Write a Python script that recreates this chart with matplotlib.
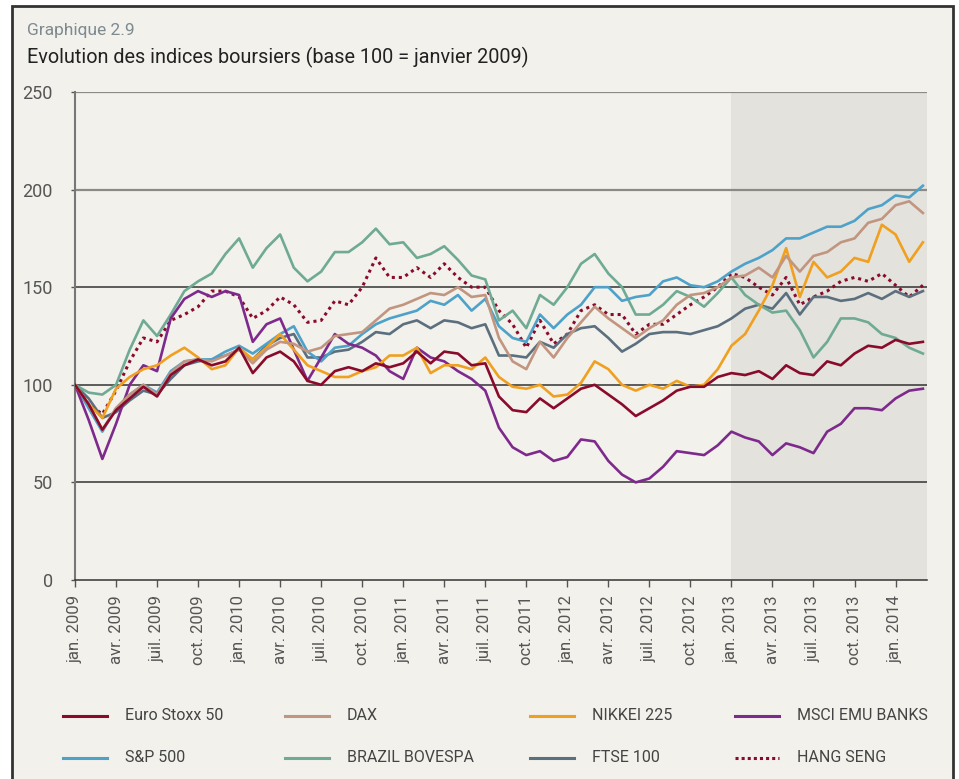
import numpy as np
import matplotlib
matplotlib.use("Agg")
import matplotlib.pyplot as plt
from matplotlib.patches import Rectangle
from matplotlib.lines import Line2D

plt.rcParams['font.family'] = ['Roboto', 'DejaVu Sans']

# monthly readings, jan. 2009 .. mars 2014 (base 100 = janvier 2009)
months = np.arange(63)

euro_stoxx = [100, 90, 77, 87, 93, 99, 94, 105, 110, 113, 110, 112,
              119, 106, 114, 117, 112, 102, 100, 107, 109, 107, 111, 109,
              111, 117, 111, 117, 116, 110, 111, 94, 87, 86, 93, 88,
              93, 98, 100, 95, 90, 84, 88, 92, 97, 99, 99, 104,
              106, 105, 107, 103, 110, 106, 105, 112, 110, 116, 120, 119, 123, 121, 122]
dax = [100, 90, 77, 88, 95, 100, 95, 106, 112, 113, 112, 115,
       118, 111, 118, 122, 121, 117, 119, 125, 126, 127, 133, 139,
       141, 144, 147, 146, 150, 145, 146, 124, 112, 108, 122, 114,
       124, 132, 140, 134, 129, 124, 129, 133, 141, 146, 147, 150,
       155, 156, 160, 155, 166, 158, 166, 168, 173, 175, 183, 185, 192, 194, 188]
nikkei = [100, 90, 83, 98, 104, 108, 110, 115, 119, 114, 108, 110,
          119, 113, 119, 126, 118, 110, 107, 104, 104, 107, 109, 115,
          115, 119, 106, 110, 110, 108, 114, 104, 99, 98, 100, 94,
          95, 101, 112, 108, 100, 97, 100, 98, 102, 99, 100, 108,
          120, 126, 138, 151, 170, 145, 163, 155, 158, 165, 163, 182, 177, 163, 173]
msci_banks = [100, 82, 62, 80, 100, 110, 107, 134, 144, 148, 145, 148,
              146, 122, 131, 134, 118, 102, 114, 126, 121, 119, 115, 107,
              103, 119, 114, 112, 107, 103, 97, 78, 68, 64, 66, 61,
              63, 72, 71, 61, 54, 50, 52, 58, 66, 65, 64, 69,
              76, 73, 71, 64, 70, 68, 65, 76, 80, 88, 88, 87, 93, 97, 98]
sp500 = [100, 88, 76, 88, 95, 100, 96, 107, 112, 113, 113, 117,
         120, 116, 121, 126, 130, 117, 112, 119, 120, 126, 131, 134,
         136, 138, 143, 141, 146, 138, 144, 130, 124, 122, 136, 129,
         136, 141, 150, 150, 143, 145, 146, 153, 155, 151, 150, 153,
         158, 162, 165, 169, 175, 175, 178, 181, 181, 184, 190, 192, 197, 196, 202]
bovespa = [100, 96, 95, 100, 118, 133, 125, 136, 148, 153, 157, 167,
           175, 160, 170, 177, 160, 153, 158, 168, 168, 173, 180, 172,
           173, 165, 167, 171, 164, 156, 154, 133, 138, 129, 146, 141,
           150, 162, 167, 157, 150, 136, 136, 141, 148, 145, 140, 147,
           155, 146, 141, 137, 138, 128, 114, 122, 134, 134, 132, 126, 124, 119, 116]
ftse = [100, 93, 83, 86, 92, 97, 95, 103, 110, 112, 113, 115,
        118, 113, 120, 124, 126, 114, 114, 117, 118, 122, 127, 126,
        131, 133, 129, 133, 132, 129, 131, 115, 115, 114, 122, 119,
        126, 129, 130, 124, 117, 121, 126, 127, 127, 126, 128, 130,
        134, 139, 141, 139, 147, 136, 145, 145, 143, 144, 147, 144, 148, 145, 148]
hang_seng = [100, 90, 85, 97, 112, 124, 122, 133, 136, 140, 148, 148,
             145, 134, 138, 145, 141, 132, 133, 143, 141, 150, 165, 155,
             155, 160, 155, 162, 155, 150, 150, 138, 131, 119, 133, 121,
             126, 138, 141, 136, 136, 126, 131, 131, 136, 141, 145, 150,
             157, 155, 150, 146, 155, 141, 145, 148, 153, 155, 153, 157, 151, 145, 151]

tick_labels = []
for yr in range(2009, 2015):
    for mo in ['jan.', 'avr.', 'juil.', 'oct.']:
        tick_labels.append(mo + ' ' + str(yr))
tick_labels = tick_labels[:21]

series = [
    ('Euro Stoxx 50', euro_stoxx, '#8a0a2c', '-'),
    ('DAX', dax, '#c29580', '-'),
    ('NIKKEI 225', nikkei, '#f0a020', '-'),
    ('MSCI EMU BANKS', msci_banks, '#7d2a8c', '-'),
    ('S&P 500', sp500, '#4ea2c9', '-'),
    ('BRAZIL BOVESPA', bovespa, '#6eaa94', '-'),
    ('FTSE 100', ftse, '#5b6f7e', '-'),
    ('HANG SENG', hang_seng, '#8a0a2c', ':'),
]

bg = '#f2f1eb'
fig = plt.figure(figsize=(9.59, 7.79), dpi=100, facecolor='white')
fig.add_artist(Rectangle((12 / 959, -0.02), 941 / 959, 1.02 - 6 / 779,
                         transform=fig.transFigure, facecolor=bg,
                         edgecolor='#333333', linewidth=2, zorder=-10))

ax = fig.add_axes([75 / 959, 1 - 580 / 779, 852 / 959, 488 / 779])
ax.set_facecolor(bg)

# zone 2013-2014 grisée
ax.axvspan(48, 62.3, color='#e3e2dc', zorder=0, linewidth=0)

for yv in [50, 100, 150]:
    ax.axhline(yv, color='#333333', linewidth=1.1, zorder=1)
for yv in [200, 250]:
    ax.axhline(yv, color='#8a8a86', linewidth=1.6, zorder=1)

for name, vals, col, ls in series[::-1]:
    if ls == ':':
        ax.plot(months, vals, color=col, linewidth=2.2, linestyle=(0, (1, 1.3)), zorder=3)
    else:
        ax.plot(months, vals, color=col, linewidth=1.9, zorder=3)

ax.set_xlim(0, 62.3)
ax.set_ylim(0, 250)
ax.set_yticks([0, 50, 100, 150, 200, 250])
ax.set_xticks(np.arange(0, 63, 3))
ax.set_xticklabels(tick_labels, rotation=90, fontsize=12, color='#555555')
ax.tick_params(axis='y', labelsize=13, colors='#555555', length=3, width=1, pad=13)
ax.tick_params(axis='x', length=5, width=1, color='#555555', pad=6)
for s in ['top', 'right']:
    ax.spines[s].set_visible(False)
ax.spines['left'].set_color('#777777')
ax.spines['left'].set_linewidth(1.5)
ax.spines['bottom'].set_color('#333333')
ax.spines['bottom'].set_linewidth(1.1)

fig.text(27 / 959, 1 - 31 / 779, 'Graphique 2.9', fontsize=12.5, color='#7d8a90', va='center')
fig.text(27 / 959, 1 - 57 / 779, 'Evolution des indices boursiers (base 100 = janvier 2009)',
         fontsize=14.3, color='#222222', va='center')

# légende
col_x = [63, 285, 530, 735]
row_y = [716, 758]
for i, (name, vals, col, ls) in enumerate(series):
    x0 = col_x[i % 4]
    y0 = 1 - row_y[i // 4] / 779
    fig.add_artist(Line2D([x0 / 959, (x0 + 44) / 959], [y0, y0], color=col,
                          linewidth=2.2, linestyle=(0, (1, 1)) if ls == ':' else '-'))
    fig.text((x0 + 62) / 959, y0, name, fontsize=11.5, color='#444444', va='center')

fig.savefig('out.png', dpi=100, facecolor=fig.get_facecolor())
